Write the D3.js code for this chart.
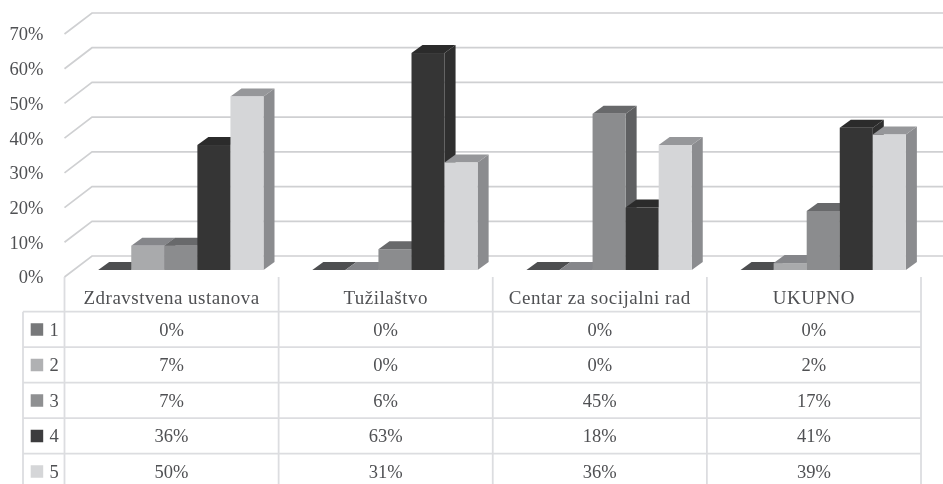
<!DOCTYPE html>
<html><head><meta charset="utf-8">
<script src="https://cdnjs.cloudflare.com/ajax/libs/d3/7.8.5/d3.min.js"></script>
<style>
html,body{margin:0;padding:0;background:#fff;overflow:hidden}
svg{display:block;filter:blur(0.6px)}
text{font-family:"Liberation Serif",serif;fill:#4f5053}
</style></head><body>
<svg id="c" width="943" height="484"></svg>
<script>
const categories = ["Zdravstvena ustanova","Tužilaštvo","Centar za socijalni rad","UKUPNO"];
const seriesNames = ["1","2","3","4","5"];
const s1 = [0,0,0,0];
const s2 = [7,0,0,2];
const s3 = [7,6,45,17];
const s4 = [36,62.5,18,41];
const s5 = [50,31,36,39];
const yTicks = [0,10,20,30,40,50,60,70];
const allSeries = [s1,s2,s3,s4,s5];
const frontColors = ["#77787a","#a9aaac","#8b8c8e","#353535","#d5d6d8"];
const topColors   = ["#4d4e50","#85868a","#68696b","#2b2b2b","#96979a"];
const sideColors  = ["#4d4e50","#7b7c7e","#5f6062","#2f2f2f","#8b8c8f"];
const legendColors= ["#77787a","#b0b1b3","#8f9092","#3c3c3e","#d5d6d8"];

const svg = d3.select("#c");
const baseY = 270, dx = 11, dy = 8;
const y = d3.scaleLinear().domain([0,70]).range([baseY, baseY-243]);
const x0 = d3.scaleBand().domain(categories).range([64.5,921]);
const x1 = d3.scaleBand().domain(d3.range(5)).range([33.7,199]);
const backDy = -14;

const g = svg.append("g");
yTicks.forEach(t=>{
  const yb = y(t)+backDy, yf = y(t)+7;
  g.append("path")
   .attr("d",`M64.5,${yf}L92,${yb}L943,${yb}`)
   .attr("fill","none").attr("stroke","#cfd0d2").attr("stroke-width",1.7);
});

const axis = d3.axisLeft(y.copy().range([baseY+7,baseY+7-243]))
  .tickValues(yTicks).tickSize(0).tickPadding(0).tickFormat(d=>d+"%");
const ax = svg.append("g").attr("transform","translate(43.5,0)").call(axis);
ax.select(".domain").remove();
ax.selectAll("text").attr("font-size",18.5).style("font-family",'"Liberation Serif",serif').style("fill","#4f5053");

categories.forEach((c,ci)=>{
  allSeries.forEach((vals,si)=>{
    const v = vals[ci], xa = x0(c)+x1(si), w = x1.bandwidth(), yt = y(v);
    const b = g.append("g");
    if(v>0) b.append("path").attr("fill",sideColors[si])
      .attr("d",`M${xa+w},${yt}L${xa+w+dx},${yt-dy}L${xa+w+dx},${baseY-dy}L${xa+w},${baseY}Z`);
    b.append("path").attr("fill",topColors[si])
      .attr("d",`M${xa},${yt}L${xa+dx},${yt-dy}L${xa+w+dx},${yt-dy}L${xa+w},${yt}Z`);
    if(v>0) b.append("rect").attr("x",xa).attr("y",yt).attr("width",w).attr("height",baseY-yt).attr("fill",frontColors[si]);
  });
});

const rowY = d3.scaleBand().domain(seriesNames).range([311.7,489.2]);
const lc = "#dcdde0";
const t = svg.append("g");
x0.domain().concat(["end"]).forEach(c=>{
  const xv = c==="end" ? x0.range()[1] : x0(c);
  t.append("line").attr("x1",xv).attr("x2",xv).attr("y1",277).attr("y2",484).attr("stroke",lc).attr("stroke-width",1.8);
});
t.append("line").attr("x1",23).attr("x2",23).attr("y1",311.7).attr("y2",484).attr("stroke",lc).attr("stroke-width",1.8);
seriesNames.forEach(n=>{
  t.append("line").attr("x1",23).attr("x2",921).attr("y1",rowY(n)).attr("y2",rowY(n)).attr("stroke",lc).attr("stroke-width",1.8);
});
categories.forEach(c=>{
  t.append("text").attr("x",x0(c)+x0.bandwidth()/2).attr("y",298).attr("dy","0.33em")
   .attr("text-anchor","middle").attr("font-size",19).attr("letter-spacing",0.5).text(c);
});
seriesNames.forEach((n,si)=>{
  const cy = rowY(n)+rowY.bandwidth()/2;
  t.append("rect").attr("x",30.7).attr("y",cy-6.2).attr("width",12.5).attr("height",12.5).attr("fill",legendColors[si]);
  t.append("text").attr("x",49.5).attr("y",cy).attr("dy","0.33em").attr("font-size",18.5).text(n);
  categories.forEach((c,ci)=>{
    t.append("text").attr("x",x0(c)+x0.bandwidth()/2).attr("y",cy).attr("dy","0.33em")
     .attr("text-anchor","middle").attr("font-size",18.5).text(Math.round(allSeries[si][ci])+"%");
  });
});
</script>
</body></html>
